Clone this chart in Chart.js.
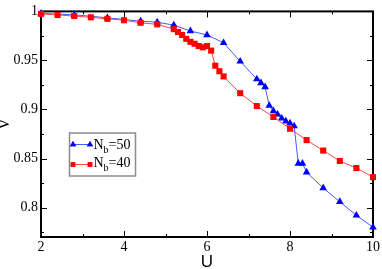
<!DOCTYPE html>
<html>
<head>
<meta charset="utf-8">
<script src="https://cdn.jsdelivr.net/npm/chart.js@4/dist/chart.umd.min.js"></script>
<style>
html,body{margin:0;padding:0;background:#fff;}
canvas{display:block;}
</style>
</head>
<body>
<canvas id="c" width="382" height="269"></canvas>
<script>
// N_b = 50 (blue triangles)
const uBlue = [2.0, 2.8, 3.6, 4.4, 4.8, 5.2, 5.6, 6.0, 6.4, 6.8, 7.2, 7.3, 7.4, 7.5, 7.6, 7.7, 7.8, 7.9, 8.0, 8.1, 8.2, 8.3, 8.4, 8.8, 9.2, 9.6, 10.0];
const nuBlue = [0.998, 0.9965, 0.9935, 0.990, 0.989, 0.986, 0.980, 0.976, 0.968, 0.949, 0.931, 0.927, 0.923, 0.904, 0.8985, 0.895, 0.891, 0.888, 0.886, 0.883, 0.845, 0.845, 0.836, 0.820, 0.806, 0.792, 0.780];
// N_b = 40 (red squares)
const uRed = [2.0, 2.4, 2.8, 3.2, 3.6, 4.0, 4.4, 4.8, 5.2, 5.3, 5.4, 5.5, 5.6, 5.7, 5.8, 5.9, 6.0, 6.1, 6.2, 6.3, 6.4, 6.8, 7.2, 7.6, 8.0, 8.4, 8.8, 9.2, 9.6, 10.0];
const nuRed = [0.9975, 0.9963, 0.9953, 0.994, 0.9924, 0.991, 0.9884, 0.9868, 0.9819, 0.979, 0.976, 0.972, 0.969, 0.967, 0.9647, 0.9634, 0.9647, 0.960, 0.9446, 0.939, 0.9337, 0.9166, 0.9035, 0.8924, 0.8804, 0.8688, 0.8581, 0.8475, 0.8403, 0.831];
const seriesLabels = ["50", "40"];
const xTitle = "U";
const yTitle = "ν";

const toPts = (xs, ys) => xs.map((x, i) => ({x: x, y: ys[i]}));
const BLUE = "rgb(0,0,255)", RED = "rgb(255,0,0)";
const BLUE_LINE = "rgb(70,90,255)", RED_LINE = "rgb(255,70,70)";
const SERIF = "'Liberation Serif', 'DejaVu Serif', serif";

const framePlugin = {
  id: "frame",
  beforeDatasetsDraw(chart) {
    const {ctx, chartArea: a, scales: {x, y}} = chart;
    ctx.save();
    ctx.strokeStyle = "#000";
    ctx.lineWidth = 1;
    const xt = x.ticks.map(t => t.value);
    const yt = y.ticks.map(t => t.value);
    const xMinor = [];
    for (let i = 0; i < xt.length - 1; i++) xMinor.push((xt[i] + xt[i + 1]) / 2);
    const yMinor = [yt[0] - 0.025];
    for (let i = 0; i < yt.length - 1; i++) yMinor.push((yt[i] + yt[i + 1]) / 2);
    ctx.beginPath();
    const hTick = (v, len) => {
      const px = Math.round(x.getPixelForValue(v)) + 0.5;
      ctx.moveTo(px, a.bottom); ctx.lineTo(px, a.bottom - len);
      ctx.moveTo(px, a.top); ctx.lineTo(px, a.top + len);
    };
    const vTick = (v, len) => {
      if (v < y.min - 1e-9) return;
      const py = Math.round(y.getPixelForValue(v)) + 0.5;
      ctx.moveTo(a.left, py); ctx.lineTo(a.left + len, py);
      ctx.moveTo(a.right, py); ctx.lineTo(a.right - len, py);
    };
    xt.forEach(v => hTick(v, 6));
    xMinor.forEach(v => hTick(v, 3));
    yt.forEach(v => vTick(v, 6));
    yMinor.forEach(v => vTick(v, 3));
    ctx.stroke();
    ctx.lineWidth = 2;
    ctx.strokeRect(a.left, a.top, a.right - a.left, a.bottom - a.top);
    ctx.restore();
  },
  afterDraw(chart) {
    const {ctx} = chart;
    const bx = 69.5, by = 133, bw = 66, bh = 43;
    ctx.save();
    ctx.fillStyle = "#fff";
    ctx.fillRect(bx, by, bw, bh);
    ctx.strokeStyle = "#8c8c8c";
    ctx.lineWidth = 1.5;
    ctx.strokeRect(bx, by, bw, bh);
    const rows = [
      {ly: 144, base: 148.5, color: BLUE, line: BLUE_LINE, style: "triangle", lab: seriesLabels[0]},
      {ly: 164, base: 167, color: RED, line: RED_LINE, style: "rect", lab: seriesLabels[1]}
    ];
    rows.forEach(r => {
      ctx.strokeStyle = r.line;
      ctx.lineWidth = 1;
      ctx.beginPath();
      ctx.moveTo(73, r.ly + 0.5); ctx.lineTo(90, r.ly + 0.5);
      ctx.stroke();
      ctx.fillStyle = r.color;
      [73, 90].forEach(px => {
        Chart.helpers.drawPoint(ctx, {pointStyle: r.style, radius: r.style === "triangle" ? 3.5 : 3.2, rotation: 0, borderWidth: 0}, px, r.ly + 0.5);
        ctx.fill();
      });
      ctx.fillStyle = "#000";
      ctx.textBaseline = "alphabetic";
      ctx.textAlign = "left";
      ctx.font = "14px " + SERIF;
      let tx = 93.5;
      ctx.fillText("N", tx, r.base);
      tx += ctx.measureText("N").width;
      ctx.font = "10px " + SERIF;
      ctx.fillText("b", tx, r.base + 4);
      tx += ctx.measureText("b").width;
      ctx.font = "14px " + SERIF;
      ctx.fillText("=" + r.lab, tx, r.base);
    });
    ctx.restore();
  }
};

new Chart(document.getElementById("c"), {
  type: "scatter",
  data: {
    datasets: [
      {
        label: "N_b=" + seriesLabels[1],
        data: toPts(uRed, nuRed),
        showLine: true,
        borderColor: RED_LINE,
        backgroundColor: RED,
        borderWidth: 1,
        pointStyle: "rect",
        pointRadius: 4.3,
        pointBorderWidth: 0,
        pointBackgroundColor: RED,
        clip: false
      },
      {
        label: "N_b=" + seriesLabels[0],
        data: toPts(uBlue, nuBlue),
        showLine: true,
        borderColor: BLUE_LINE,
        backgroundColor: BLUE,
        borderWidth: 1,
        pointStyle: "triangle",
        pointRadius: 4.4,
        pointBorderWidth: 0,
        pointBackgroundColor: BLUE,
        clip: false
      }
    ]
  },
  options: {
    responsive: false,
    animation: false,
    events: [],
    layout: {padding: {top: 5, right: 8, left: 0, bottom: 0}},
    plugins: {legend: {display: false}, tooltip: {enabled: false}},
    scales: {
      x: {
        type: "linear",
        min: 2, max: 10,
        afterFit: s => { s.height = 32; },
        grid: {display: false, drawTicks: false},
        border: {display: false},
        ticks: {stepSize: 2, padding: 2, color: "#000", font: {family: SERIF, size: 14}, autoSkip: false, maxRotation: 0},
        title: {display: true, text: xTitle, color: "#000", font: {family: "'Liberation Sans', Arial, sans-serif", size: 17, lineHeight: 1}, padding: {top: 0, bottom: -2}}
      },
      y: {
        type: "linear",
        min: 0.77, max: 1.0,
        afterFit: s => { s.width = 41; },
        grid: {display: false, drawTicks: false},
        border: {display: false},
        ticks: {stepSize: 0.05, includeBounds: false, padding: 3, color: "#000", font: {family: SERIF, size: 14}, autoSkip: false,
          callback: v => String(+Number(v).toFixed(2))},
        title: {display: true, text: yTitle, color: "#000", font: {family: SERIF, size: 20, lineHeight: 1}, padding: {top: -6, bottom: 0}}
      }
    }
  },
  plugins: [framePlugin]
});
</script>
</body>
</html>
